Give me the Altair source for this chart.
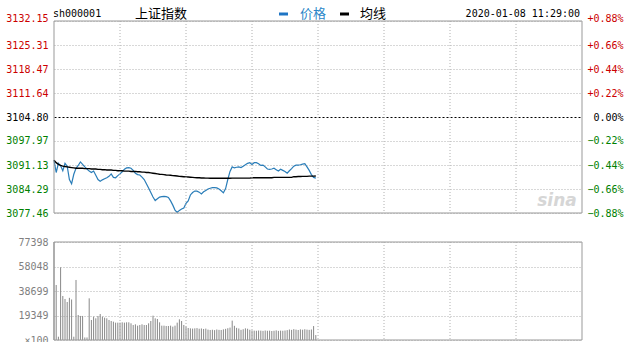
import json
import altair as alt
import pandas as pd

# ---------------- data ----------------
base_price = 3104.80
price_ticks = [3132.15, 3125.31, 3118.47, 3111.64, 3104.80, 3097.97, 3091.13, 3084.29, 3077.46]
vol_ticks = [0, 19349, 38699, 58048, 77398]
time_ticks = [0, 30, 60, 90, 120, 150, 180, 210, 240]
time_labels = ["09:30", "10:00", "10:30", "11:00", "11:30", "13:30", "14:00", "14:30", "15:00"]
header_code = "sh000001"
header_name = "上证指数"
legend_labels = ["价格", "均线"]
stamp = "2020-01-08 11:29:00"

price = [
    3092.5, 3089.0, 3091.6, 3090.9, 3089.5, 3091.6, 3090.8, 3087.0, 3085.8, 3088.5,
    3090.2, 3091.0, 3092.0, 3091.3, 3090.6, 3090.0, 3089.4, 3089.0, 3089.4, 3088.2,
    3087.0, 3086.5, 3086.9, 3087.2, 3087.5, 3087.9, 3088.6, 3087.6, 3087.5, 3088.1,
    3088.6, 3089.2, 3089.9, 3090.3, 3090.4, 3090.2, 3089.6, 3088.8, 3088.4, 3088.3,
    3087.7, 3087.0, 3085.8, 3084.6, 3083.3, 3082.0, 3081.0, 3081.5, 3082.0, 3082.1,
    3082.2, 3082.1, 3081.9, 3080.9, 3079.7, 3078.3, 3077.6, 3078.2, 3078.6, 3078.9,
    3080.2, 3080.9, 3082.6, 3083.3, 3083.7, 3083.7, 3083.4, 3082.9, 3083.5, 3083.9,
    3084.3, 3084.5, 3084.7, 3084.7, 3084.6, 3084.3, 3083.8, 3083.2, 3084.4, 3087.0,
    3089.3, 3090.6, 3090.3, 3090.5, 3090.6, 3090.4, 3090.8, 3091.2, 3091.6, 3091.8,
    3091.3, 3091.8, 3091.8, 3091.5, 3091.0, 3091.1, 3090.6, 3090.0, 3089.9, 3090.0,
    3090.2, 3089.8, 3089.4, 3089.9, 3089.6, 3089.3, 3088.8, 3089.5, 3090.1, 3090.8,
    3091.1, 3091.1, 3091.2, 3091.4, 3091.5, 3090.6, 3089.6, 3088.4, 3087.6, 3087.4,
]
avg = [
    3092.5, 3091.8, 3091.3, 3091.0, 3090.8, 3090.7, 3090.6, 3090.5, 3090.4, 3090.3,
    3090.2, 3090.2, 3090.2, 3090.2, 3090.1, 3090.1, 3090.1, 3090.0, 3090.0, 3090.0,
    3089.9, 3089.9, 3089.8, 3089.8, 3089.7, 3089.7, 3089.7, 3089.6, 3089.6, 3089.5,
    3089.5, 3089.5, 3089.4, 3089.4, 3089.4, 3089.3, 3089.3, 3089.3, 3089.2, 3089.2,
    3089.1, 3089.1, 3089.0, 3089.0, 3088.9, 3088.8, 3088.7, 3088.6, 3088.5, 3088.45,
    3088.4, 3088.3, 3088.25, 3088.2, 3088.1, 3088.05, 3088.0, 3087.9, 3087.85, 3087.8,
    3087.75, 3087.7, 3087.65, 3087.6, 3087.55, 3087.5, 3087.5, 3087.45, 3087.45, 3087.4,
    3087.4, 3087.35, 3087.35, 3087.35, 3087.35, 3087.35, 3087.35, 3087.35, 3087.35, 3087.35,
    3087.35, 3087.4, 3087.4, 3087.4, 3087.4, 3087.4, 3087.4, 3087.4, 3087.4, 3087.4,
    3087.5, 3087.5, 3087.5, 3087.5, 3087.5, 3087.5, 3087.5, 3087.5, 3087.5, 3087.5,
    3087.6, 3087.6, 3087.6, 3087.6, 3087.6, 3087.6, 3087.6, 3087.6, 3087.6, 3087.8,
    3087.8, 3087.85, 3087.85, 3087.9, 3087.9, 3087.9, 3087.95, 3087.95, 3087.95, 3088.0,
]
volume = [
    77398,
    43450, 2600, 57400, 34760, 32400, 30000, 33300, 32000, 2600, 47400,
    19750, 19000, 19000, 2000, 2000, 32900, 15800, 18430, 17120, 18960,
    20540, 18430, 17640, 17120, 15800, 15010, 14480, 13700, 13700, 13700,
    13960, 13700, 13960, 13960, 13170, 11850, 12380, 11320, 11850, 12380,
    11850, 11850, 13170, 15010, 19220, 17120, 16590, 13960, 11320, 11320,
    11060, 11060, 11320, 10540, 11320, 13700, 16330, 15010, 11850, 10540,
    9500, 9200, 9000, 9200, 9400, 8900, 9100, 8700, 9000, 8200,
    7900, 8100, 7800, 8300, 8000, 7900, 8400, 8800, 9300, 9800,
    15300, 11200, 9600, 9100, 8000, 8500, 9200, 8900, 8100, 7600,
    7400, 7300, 7500, 7400, 7200, 7500, 7300, 7400, 7100, 7300,
    7600, 7200, 7400, 7300, 7500, 7800, 8300, 8000, 8600, 8200,
    7900, 8400, 8100, 8500, 8200, 8000, 8300, 11000, 3900,
]
assert len(price) == len(avg) == len(volume) == 120

# ---------------- layout ----------------
W, H = 528, 319
PRICE_H = 192          # price panel height in px
VOL_H = 98             # volume panel height in px
price_hi, price_lo = price_ticks[0], price_ticks[-1]
price_dom_lo = price_hi - (price_hi - price_lo) * H / PRICE_H
vol_dom_hi = vol_ticks[-1] * H / VOL_H

BLUE = "#2a7db8"
RED = "#cc0000"
GREEN = "#008000"
GRID = "#b0b0b0"
BORDER = "#999999"
MONO = "DejaVu Sans Mono"
CJK = "Noto Sans CJK SC"

df = pd.DataFrame({"t": list(range(len(price))), "price": price, "avg": avg, "vol": volume})

x_scale = alt.Scale(domain=[time_ticks[0], time_ticks[-1]], nice=False, zero=False)
p_scale = alt.Scale(domain=[price_dom_lo, price_hi], nice=False, zero=False)
v_scale = alt.Scale(domain=[0, vol_dom_hi], nice=False, zero=False)

x_axis = alt.Axis(
    values=time_ticks, labelExpr=json.dumps(time_labels) + "[round(datum.value/30)]",
    orient="bottom", offset=-(H - PRICE_H), domain=False, ticks=False, grid=False,
    labelColor="#2b78b8", labelFont=MONO, labelFontSize=10, labelPadding=3,
    labelFlush=False, labelOverlap=False, labelBound=False, title=None,
)

is_base = f"abs(datum.value-{base_price})<0.005"
is_up = f"datum.value>{base_price}+0.005"
is_down = f"datum.value<{base_price}-0.005"
is_top = f"datum.value>{price_hi}-0.005"

price_axis = alt.Axis(
    values=price_ticks, format=".2f", orient="left", domain=False, ticks=False,
    grid=True,
    gridColor={"condition": {"test": is_base, "value": "#000000"}, "value": GRID},
    gridDash={"condition": {"test": is_base, "value": [2, 2]}, "value": [1, 2]},
    gridWidth=1,
    labelColor={"condition": [{"test": is_up, "value": RED}, {"test": is_down, "value": GREEN}], "value": "#000000"},
    labelOffset={"condition": {"test": is_top, "value": -3}, "value": 0},
    labelFont=MONO, labelFontSize=10, labelPadding=6, labelOverlap=False, labelBound=False,
    title=None,
)

pct_axis = alt.Axis(
    values=price_ticks, orient="right", domain=False, ticks=False, grid=False,
    labelExpr=f"{is_base} ? '0.00%' : format((datum.value-{base_price})/{base_price}*100, '+.2f') + '%'",
    labelColor={"condition": [{"test": is_up, "value": RED}, {"test": is_down, "value": GREEN}], "value": "#000000"},
    labelOffset={"condition": {"test": is_top, "value": -3}, "value": 0},
    labelAlign="right", labelPadding=41,
    labelFont=MONO, labelFontSize=10, labelOverlap=False, labelBound=False, title=None,
)

vol_axis = alt.Axis(
    values=vol_ticks, format="d", orient="left", domain=False, ticks=False,
    labelExpr="datum.value == 0 ? '×100' : datum.label",
    grid=True, gridColor=GRID, gridDash=[1, 2], gridWidth=1,
    labelColor="#808080", labelFont=MONO, labelFontSize=10, labelPadding=6,
    labelOverlap=False, labelBound=False, title=None,
)

# helper frames for grid rules and borders (from tick lists)
vgrid = pd.DataFrame({
    "t": time_ticks[1:-1],
    "ptop": price_hi, "pbot": price_lo,
    "vtop": vol_ticks[-1], "vbot": vol_ticks[0],
})
frame = pd.DataFrame({
    "t0": [time_ticks[0]], "t1": [time_ticks[-1]],
    "ptop": [price_hi], "pbot": [price_lo],
    "vtop": [vol_ticks[-1]], "vbot": [vol_ticks[0]],
})

xg = alt.X("t:Q", scale=x_scale, axis=None)

price_line = alt.Chart(df).mark_line(color=BLUE, strokeWidth=1.2).encode(
    x=alt.X("t:Q", scale=x_scale, axis=x_axis),
    y=alt.Y("price:Q", scale=p_scale, axis=price_axis),
)
avg_line = alt.Chart(df).mark_line(color="#000000", strokeWidth=1.4).encode(
    x=xg, y=alt.Y("avg:Q", scale=p_scale, axis=pct_axis),
)
vol_bars = alt.Chart(df).mark_rule(color="#888888", strokeWidth=1).encode(
    x=xg, y=alt.Y("vol:Q", scale=v_scale, axis=vol_axis), y2=alt.datum(0),
)
vgrid_p = alt.Chart(vgrid).mark_rule(color=GRID, strokeDash=[1, 2], strokeWidth=1).encode(
    x=xg, y=alt.Y("ptop:Q", scale=p_scale, axis=None), y2="pbot:Q",
)
vgrid_v = alt.Chart(vgrid).mark_rule(color=GRID, strokeDash=[1, 2], strokeWidth=1).encode(
    x=xg, y=alt.Y("vtop:Q", scale=v_scale, axis=None), y2="vbot:Q",
)
frame_p = alt.Chart(frame).mark_rect(fillOpacity=0, stroke=BORDER, strokeWidth=1).encode(
    x=alt.X("t0:Q", scale=x_scale, axis=None), x2="t1:Q",
    y=alt.Y("ptop:Q", scale=p_scale, axis=None), y2="pbot:Q",
)
frame_v = alt.Chart(frame).mark_rect(fillOpacity=0, stroke=BORDER, strokeWidth=1).encode(
    x=alt.X("t0:Q", scale=x_scale, axis=None), x2="t1:Q",
    y=alt.Y("vtop:Q", scale=v_scale, axis=None), y2="vbot:Q",
)

one = pd.DataFrame({"code": [header_code], "name": [header_name], "l0": [legend_labels[0]],
                    "l1": [legend_labels[1]], "stamp": [stamp], "logo": ["sina"]})
hy = -7
t_code = alt.Chart(one).mark_text(align="left", baseline="middle", font=MONO, fontSize=10, color="#000").encode(
    x=alt.value(-1), y=alt.value(hy), text="code:N")
t_name = alt.Chart(one).mark_text(align="left", baseline="middle", font=CJK, fontSize=13, color="#000").encode(
    x=alt.value(81), y=alt.value(hy), text="name:N")
lg0 = alt.Chart(one).mark_rule(color="#1f75c4", strokeWidth=3).encode(
    x=alt.value(225), x2=alt.value(234), y=alt.value(hy))
t_l0 = alt.Chart(one).mark_text(align="left", baseline="middle", font=CJK, fontSize=13, color="#2a86c8").encode(
    x=alt.value(246), y=alt.value(hy), text="l0:N")
lg1 = alt.Chart(one).mark_rule(color="#000000", strokeWidth=3).encode(
    x=alt.value(286), x2=alt.value(295), y=alt.value(hy))
t_l1 = alt.Chart(one).mark_text(align="left", baseline="middle", font=CJK, fontSize=13, color="#000").encode(
    x=alt.value(306), y=alt.value(hy), text="l1:N")
t_stamp = alt.Chart(one).mark_text(align="right", baseline="middle", font=MONO, fontSize=10, color="#000").encode(
    x=alt.value(526), y=alt.value(hy), text="stamp:N")
t_logo = alt.Chart(one).mark_text(align="center", baseline="middle", font="DejaVu Sans", fontSize=17,
                                  fontStyle="italic", fontWeight="bold", color="#d6d6d6").encode(
    x=alt.value(503), y=alt.value(180), text="logo:N")

chart = alt.layer(
    price_line, avg_line, vol_bars,
    vgrid_p, vgrid_v, frame_p, frame_v,
    t_logo, t_code, t_name, lg0, t_l0, lg1, t_l1, t_stamp,
).resolve_scale(y="independent").properties(
    width=W, height=H,
    autosize=alt.AutoSizeParams(type="none"),
    padding={"left": 54, "top": 21, "right": 627 - 54 - W, "bottom": 342 - 21 - H},
    background="#ffffff",
).configure_view(stroke=None)

chart.save("out.html", embed_options={"renderer": "svg", "actions": False})
